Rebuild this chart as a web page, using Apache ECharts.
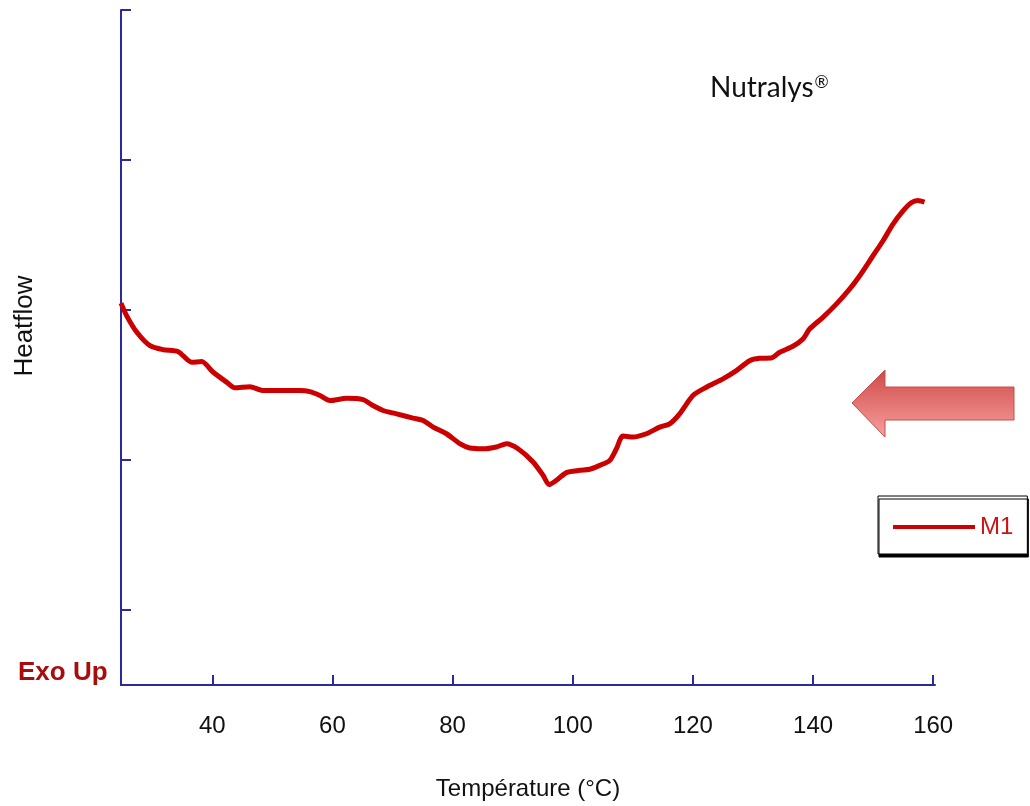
<!DOCTYPE html>
<html>
<head>
<meta charset="utf-8">
<title>Nutralys DSC</title>
<script src="https://cdn.jsdelivr.net/npm/echarts@6/dist/echarts.min.js"></script>
<style>
  html, body { margin: 0; padding: 0; background: #ffffff; }
  #chart { width: 1030px; height: 806px; }
</style>
</head>
<body>
<div id="chart"></div>
<script>
// DSC thermogram of sample M1 (temperature in °C, heat flow in arbitrary units, exo up)
const temperature = [
  24.8, 25.75, 27.41, 29.62, 31.84, 34.33, 36.56, 38.23, 40.16, 42.38,
  43.77, 46.26, 48.47, 54.58, 56.24, 57.91, 59.57, 62.35, 65.11, 66.51,
  68.44, 70.67, 73.43, 75.09, 76.76, 78.98, 81.20, 82.86, 85.07, 87.30,
  88.97, 90.90, 93.39, 95.06, 96.05, 97.28, 98.95, 101.16, 102.82, 104.49,
  106.15, 107.27, 108.36, 110.03, 112.26, 114.47, 116.13, 117.79, 120.01, 122.24,
  125.00, 127.23, 129.44, 131.11, 133.05, 134.43, 136.65, 138.31, 139.42, 141.64,
  143.87, 146.08, 147.74, 149.95, 151.62, 153.28, 154.94, 156.34, 157.44, 158.55
];
const heatflow = [
  3.046, 2.961, 2.853, 2.762, 2.735, 2.722, 2.652, 2.656, 2.585, 2.519,
  2.481, 2.489, 2.463, 2.463, 2.456, 2.430, 2.396, 2.412, 2.403, 2.368,
  2.330, 2.308, 2.279, 2.263, 2.219, 2.175, 2.109, 2.080, 2.075, 2.087,
  2.109, 2.075, 1.987, 1.898, 1.836, 1.865, 1.916, 1.931, 1.938, 1.964,
  1.997, 2.075, 2.160, 2.153, 2.175, 2.219, 2.241, 2.308, 2.430, 2.485,
  2.541, 2.596, 2.662, 2.678, 2.680, 2.718, 2.758, 2.806, 2.873, 2.951,
  3.039, 3.139, 3.227, 3.360, 3.460, 3.571, 3.659, 3.715, 3.730, 3.719
];
const xTickValues = [40, 60, 80, 100, 120, 140, 160];
const yTickValues = [1, 2, 3, 4, 5];
const seriesName = 'M1';

const axisColor = '#2a2a9c';
const curveColor = '#cc0000';
const sansFont = '"Liberation Sans", Arial, sans-serif';

const chart = echarts.init(document.getElementById('chart'), null, { renderer: 'canvas' });

chart.setOption({
  backgroundColor: '#ffffff',
  animation: false,
  grid: { left: 121, right: 95, top: 10, bottom: 118 },
  xAxis: {
    type: 'value',
    min: 24.8,
    max: 160.3,
    name: 'Température (°C)',
    nameLocation: 'middle',
    nameGap: 92,
    nameTextStyle: { fontFamily: sansFont, fontSize: 24, color: '#111' },
    axisLine: { show: true, lineStyle: { color: axisColor, width: 2 } },
    axisTick: { show: true, inside: true, length: 10, customValues: xTickValues,
                lineStyle: { color: axisColor, width: 2 } },
    axisLabel: { customValues: xTickValues, margin: 29, fontFamily: sansFont,
                 fontSize: 24, color: '#111' },
    splitLine: { show: false }
  },
  yAxis: {
    type: 'value',
    min: 0.5,
    max: 5,
    axisLine: { show: true, lineStyle: { color: axisColor, width: 2 } },
    axisTick: { show: true, inside: true, length: 10, customValues: yTickValues,
                lineStyle: { color: axisColor, width: 2 } },
    axisLabel: { show: false },
    splitLine: { show: false }
  },
  legend: {
    left: 878,
    top: 496,
    data: [{ name: seriesName, icon: 'rect' }],
    itemWidth: 82,
    itemHeight: 4,
    itemStyle: { color: curveColor },
    padding: [19, 14, 15, 15],
    backgroundColor: '#ffffff',
    borderColor: '#000000',
    borderWidth: 1,
    borderRadius: 0,
    shadowColor: '#000000',
    shadowBlur: 0,
    shadowOffsetX: 1,
    shadowOffsetY: 3,
    selectedMode: false,
    textStyle: { fontFamily: sansFont, fontSize: 24, color: '#cc1414' }
  },
  series: [{
    name: seriesName,
    type: 'line',
    data: temperature.map((t, i) => [t, heatflow[i]]),
    showSymbol: false,
    symbol: 'none',
    smooth: 0.25,
    lineStyle: { color: curveColor, width: 5 },
    itemStyle: { color: curveColor }
  }],
  graphic: [
    {
      type: 'text',
      x: 25, y: 326,
      rotation: Math.PI / 2,
      style: { text: 'Heatflow', fontFamily: sansFont, fontSize: 26, fill: '#111',
               align: 'center', verticalAlign: 'middle' }
    },
    {
      type: 'text',
      x: 18, y: 673,
      style: { text: 'Exo Up', fontFamily: sansFont, fontSize: 26, fontWeight: 'bold',
               fill: '#a80c0c', align: 'left', verticalAlign: 'middle' }
    },
    {
      type: 'text',
      x: 710, y: 88,
      style: {
        text: '{n|Nutralys}{r|®}',
        align: 'left', verticalAlign: 'middle',
        rich: {
          n: { fontFamily: 'Lato, "Open Sans", sans-serif', fontSize: 28, fill: '#111' },
          r: { fontFamily: 'Lato, "Open Sans", sans-serif', fontSize: 17, fill: '#111',
               verticalAlign: 'top', padding: [0, 0, 10, 1] }
        }
      }
    },
    {
      // left-pointing arrow in the right margin
      type: 'polygon',
      shape: {
        points: [[852, 403], [885, 370], [885, 387], [1014, 387],
                 [1014, 420], [885, 420], [885, 437]]
      },
      style: {
        fill: new echarts.graphic.LinearGradient(0, 0, 0, 1, [
          { offset: 0, color: '#cf4a48' },
          { offset: 1, color: '#f7a09e' }
        ]),
        stroke: '#c0504d',
        lineWidth: 1
      }
    }
  ]
});
</script>
</body>
</html>
